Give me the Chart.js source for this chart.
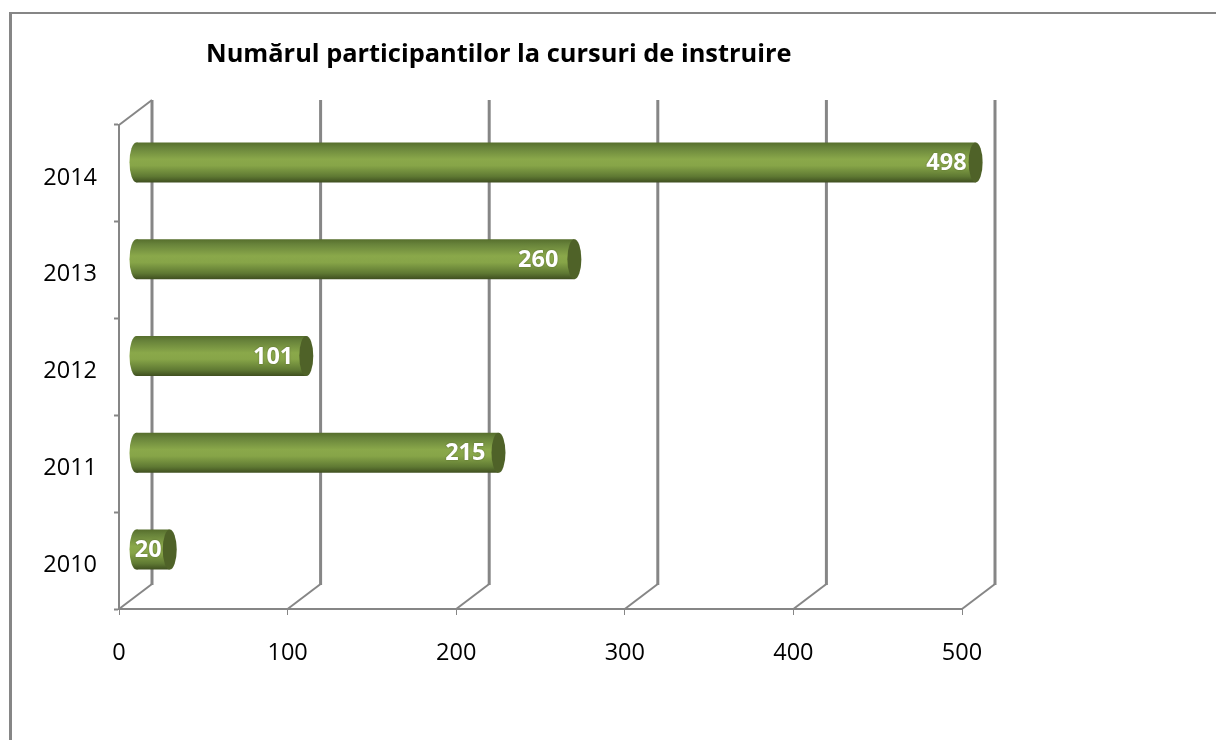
<!DOCTYPE html>
<html lang="en">
<head>
  <meta charset="UTF-8">
  <title>Numărul participantilor la cursuri de instruire</title>
  <script src="https://cdn.jsdelivr.net/npm/chart.js"></script>
  <style>
    html, body { margin: 0; padding: 0; background: #fff; overflow: hidden; }
    #wrap { position: relative; width: 1216px; height: 740px; }
    #frame {
      position: absolute; left: 9px; top: 12px; right: 0; bottom: 0;
      border-left: 3px solid #868686; border-top: 2px solid #868686;
    }
    canvas { position: absolute; left: 0; top: 0; }
  </style>
</head>
<body>
  <div id="wrap">
    <div id="frame"></div>
    <canvas id="chart" width="1216" height="740"></canvas>
  </div>
  <script>
    const titleText = 'Numărul participantilor la cursuri de instruire';
    const years = ['2014', '2013', '2012', '2011', '2010'];
    const participants = [498, 260, 101, 215, 20];
    const xTicks = [0, 100, 200, 300, 400, 500];

    const gray = '#868686';
    const depthX = 33, depthY = 25;      // back wall offset of the fake 3d
    const barX = 17, barY = 11;          // bars sit halfway into the depth
    const capW = 7;
    const labelGap = [9, 16, 13, 13, 8]; // value label distance from bar end
    const font = 'Open Sans, sans-serif';

    function barGradient(ctx, top, h) {
      const g = ctx.createLinearGradient(0, top, 0, top + h);
      g.addColorStop(0, '#566e2c');
      g.addColorStop(0.12, '#67823a');
      g.addColorStop(0.42, '#8aa84a');
      g.addColorStop(0.58, '#87a548');
      g.addColorStop(0.85, '#5f7933');
      g.addColorStop(1, '#3f4f20');
      return g;
    }

    const wallPlugin = {
      id: 'wall',
      afterLayout(chart) {
        // title starts left of the plot centre in the reference
        chart.titleBlock.left += 206;
        chart.titleBlock.right += 206;
      },
      beforeDatasetsDraw(chart) {
        const { ctx, scales: { x, y } } = chart;
        ctx.save();
        ctx.strokeStyle = gray;
        xTicks.forEach(t => {
          const px = x.getPixelForValue(t);
          ctx.lineWidth = 2;
          ctx.beginPath();
          ctx.moveTo(px, y.bottom);
          ctx.lineTo(px + depthX, y.bottom - depthY);
          ctx.stroke();
          ctx.lineWidth = 3;
          ctx.beginPath();
          ctx.moveTo(px + depthX, y.bottom - depthY + 1);
          ctx.lineTo(px + depthX, y.top - depthY);
          ctx.stroke();
        });
        // short top edge of the side wall
        const x0 = x.getPixelForValue(0);
        ctx.lineWidth = 2;
        ctx.beginPath();
        ctx.moveTo(x0, y.top);
        ctx.lineTo(x0 + depthX, y.top - depthY);
        ctx.stroke();
        ctx.restore();
      },
      beforeDatasetDraw(chart) {
        const { ctx } = chart;
        ctx.save();
        ctx.translate(barX, -barY);
      },
      afterDatasetDraw(chart) {
        const { ctx } = chart;
        chart.getDatasetMeta(0).data.forEach((bar, i) => {
          const top = bar.y - bar.height / 2;
          // rounded start
          ctx.fillStyle = barGradient(ctx, top, bar.height);
          ctx.beginPath();
          ctx.ellipse(bar.base, bar.y, capW, bar.height / 2, 0, 0, Math.PI * 2);
          ctx.fill();
          // end of the cylinder
          ctx.beginPath();
          ctx.ellipse(bar.x, bar.y, capW, bar.height / 2, 0, 0, Math.PI * 2);
          ctx.fillStyle = '#4f6228';
          ctx.fill();
          // value label
          ctx.font = 'bold 23.5px ' + font;
          ctx.fillStyle = '#fff';
          ctx.textAlign = 'right';
          ctx.textBaseline = 'middle';
          ctx.shadowColor = 'rgba(60,70,30,0.6)';
          ctx.shadowBlur = 2;
          ctx.fillText(String(participants[i]), bar.x - labelGap[i], bar.y + 1);
          ctx.shadowBlur = 0;
        });
        ctx.restore();
      }
    };

    new Chart(document.getElementById('chart'), {
      type: 'bar',
      data: {
        labels: years,
        datasets: [{
          data: participants,
          barPercentage: 40 / 96.8,
          categoryPercentage: 1,
          borderWidth: 0,
          backgroundColor(c) {
            const { chart, dataIndex } = c;
            if (!chart.chartArea) return '#8aa84a';
            const cy = chart.scales.y.getPixelForValue(dataIndex);
            return barGradient(chart.ctx, cy - 20, 40);
          }
        }]
      },
      options: {
        indexAxis: 'y',
        responsive: false,
        animation: false,
        layout: { padding: { left: 0, right: 254, top: 0, bottom: 0 } },
        plugins: {
          legend: { display: false },
          tooltip: { enabled: false },
          title: {
            display: true,
            text: titleText,
            align: 'start',
            color: '#000',
            font: { family: font, size: 25.4, weight: 'bold', lineHeight: 1.2 },
            padding: { top: 39.7, bottom: 54.8 }
          }
        },
        scales: {
          x: {
            min: 0, max: 500,
            afterFit(s) { s.height = 131; },
            afterBuildTicks(s) { s.ticks = xTicks.map(v => ({ value: v })); },
            border: { color: gray, width: 2 },
            grid: { drawOnChartArea: false, color: gray, tickLength: 6, tickWidth: 1 },
            ticks: { color: '#000', padding: 24, maxRotation: 0, font: { family: font, size: 23.5 } }
          },
          y: {
            afterFit(s) { s.width = 119; },
            border: { color: gray, width: 2 },
            grid: { drawOnChartArea: false, color: gray, tickLength: 5, tickWidth: 2 },
            ticks: { color: '#000', padding: 17, labelOffset: 4.5, font: { family: font, size: 23.5 } }
          }
        }
      },
      plugins: [wallPlugin]
    });
  </script>
</body>
</html>
